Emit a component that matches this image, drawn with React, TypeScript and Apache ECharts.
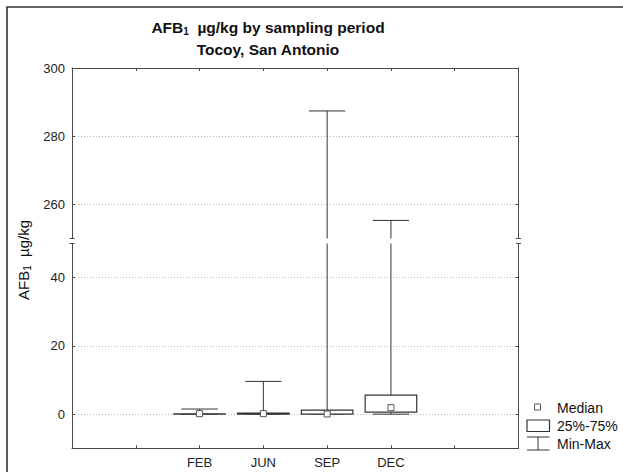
import React, { useEffect, useRef } from "react";
import * as echarts from "echarts";

// ---- data ----
const CATEGORIES = ["FEB", "JUN", "SEP", "DEC"];
const MIN_VALUES = [0, 0, 0, 0];
const Q1_VALUES = [0, 0, 0, 0.6];
const MEDIAN_VALUES = [0.15, 0.15, 0.05, 1.9];
const Q3_VALUES = [0.1, 0.3, 1.2, 5.6];
const MAX_VALUES = [1.5, 9.6, 287.4, 255.3];

const UPPER_TICKS = [260, 280, 300];
const LOWER_TICKS = [0, 20, 40];
const UPPER_RANGE = [250, 300];
const LOWER_RANGE = [-10, 50];

// category slots on the x axis (empty slots before and after)
const LEADING_SLOTS = 2;
const TOTAL_SLOTS = 7;

const FONT = "Arial, 'Liberation Sans', Helvetica, sans-serif";
const AXIS_COLOR = "#4a4a4a";
const BOX_COLOR = "#333";

const boxData = CATEGORIES.map((_, i) => [
  i + LEADING_SLOTS,
  MIN_VALUES[i],
  Q1_VALUES[i],
  MEDIAN_VALUES[i],
  Q3_VALUES[i],
  MAX_VALUES[i],
]);

function renderItem(params: any, api: any) {
  const x = api.value(0);
  const mn = api.value(1);
  const q1 = api.value(2);
  const md = api.value(3);
  const q3 = api.value(4);
  const mx = api.value(5);
  const cs = params.coordSys;
  const top = cs.y;
  const bot = cs.y + cs.height;
  const yOf = (v: number) => api.coord([x, v])[1];
  const cx = api.coord([x, 0])[0];
  const step = api.size([1, 0])[0];
  const boxHalf = step * 0.404;
  const capHalf = step * 0.285;
  const inside = (y: number) => y >= top - 0.01 && y <= bot + 0.01;
  const clamp = (y: number) => Math.max(top, Math.min(bot, y));
  const children: any[] = [];
  const line = (x1: number, y1: number, x2: number, y2: number) => ({
    type: "line",
    shape: { x1, y1, x2, y2 },
    style: { stroke: BOX_COLOR, lineWidth: 1 },
  });
  const seg = (a: number, b: number) => {
    const ya = clamp(yOf(a));
    const yb = clamp(yOf(b));
    if (Math.abs(ya - yb) > 0.5) children.push(line(cx, ya, cx, yb));
  };
  seg(q3, mx);
  seg(mn, q1);
  [mn, mx].forEach((v) => {
    const y = yOf(v);
    if (inside(y)) children.push(line(cx - capHalf, y, cx + capHalf, y));
  });
  const yq1 = yOf(q1);
  const yq3 = yOf(q3);
  const bTop = clamp(yq3);
  const bBot = clamp(yq1);
  if (bBot - bTop > 0.01 || inside(yq1)) {
    children.push({
      type: "rect",
      shape: { x: cx - boxHalf, y: bTop, width: 2 * boxHalf, height: Math.max(0.3, bBot - bTop) },
      style: { fill: "#fff", stroke: BOX_COLOR, lineWidth: 1.2 },
    });
  }
  const ym = yOf(md);
  if (inside(ym)) {
    children.push({
      type: "rect",
      shape: { x: cx - 3, y: ym - 3, width: 6, height: 6 },
      style: { fill: "#fff", stroke: "#555", lineWidth: 1 },
    });
  }
  return { type: "group", children };
}

const GRID_LEFT = 72;
const GRID_RIGHT = 104.5;

function yAxes(gridIndex: number, range: number[], ticks: number[]) {
  const common = {
    gridIndex,
    type: "value",
    min: range[0],
    max: range[1],
    axisLine: { show: true, onZero: false, lineStyle: { color: AXIS_COLOR, width: 1 } },
    axisTick: { show: true, inside: true, length: 3, customValues: ticks, lineStyle: { color: AXIS_COLOR } },
  };
  return [
    {
      ...common,
      position: "left",
      axisLabel: {
        show: true,
        customValues: ticks,
        color: "#222",
        fontSize: 13,
        fontFamily: FONT,
        margin: 7,
      },
      splitLine: { show: true, lineStyle: { type: [1, 2], color: "#b8b8b8", width: 1 } },
    },
    {
      ...common,
      position: "right",
      axisLabel: { show: false },
      splitLine: { show: false },
    },
  ];
}

export default function App() {
  const ref = useRef<HTMLDivElement>(null);
  useEffect(() => {
    if (!ref.current) return;
    const chart = echarts.init(ref.current, undefined, { renderer: "svg" });
    const axisLine = { show: true, onZero: false, lineStyle: { color: AXIS_COLOR, width: 1 } };
    const option: any = {
      animation: false,
      backgroundColor: "#fff",
      grid: [
        { left: GRID_LEFT, right: GRID_RIGHT, top: 68, height: 170.5 },
        { left: GRID_LEFT, right: GRID_RIGHT, top: 243.5, height: 204.8 },
      ],
      xAxis: [
        {
          gridIndex: 0,
          type: "value",
          min: 0,
          max: TOTAL_SLOTS,
          interval: 1,
          position: "top",
          axisLine,
          axisTick: { show: true, inside: true, length: 3, lineStyle: { color: AXIS_COLOR } },
          axisLabel: { show: false },
          splitLine: { show: false },
        },
        {
          gridIndex: 1,
          type: "value",
          min: 0,
          max: TOTAL_SLOTS,
          interval: 1,
          position: "bottom",
          axisLine,
          axisTick: { show: true, inside: true, length: 3, lineStyle: { color: AXIS_COLOR } },
          axisLabel: {
            show: true,
            color: "#222",
            fontSize: 13,
            fontFamily: FONT,
            margin: 8,
            formatter: (v: number) => CATEGORIES[v - LEADING_SLOTS] ?? "",
          },
          splitLine: { show: false },
        },
      ],
      yAxis: [...yAxes(0, UPPER_RANGE, UPPER_TICKS), ...yAxes(1, LOWER_RANGE, LOWER_TICKS)],
      series: [0, 1].map((g) => ({
        type: "custom",
        xAxisIndex: g,
        yAxisIndex: g * 2,
        data: boxData,
        encode: { x: 0, y: [1, 2, 3, 4, 5] },
        renderItem,
        clip: false,
        z: 3,
      })),
      graphic: [
        // outer frame
        {
          type: "rect",
          shape: { x: 7, y: 7, width: 700, height: 600 },
          style: { fill: "none", stroke: "#333", lineWidth: 1.6 },
          silent: true,
        },
        // title
        {
          type: "text",
          x: 268,
          y: 27,
          style: {
            text: "{b|AFB}{s|1}{b|  µg/kg by sampling period}",
            align: "center",
            verticalAlign: "middle",
            rich: {
              b: { fontSize: 15.5, fontWeight: "bold", fontFamily: FONT, fill: "#111", lineHeight: 18 },
              s: { fontSize: 10, fontWeight: "bold", fontFamily: FONT, fill: "#111", lineHeight: 10, verticalAlign: "bottom" },
            },
          },
        },
        {
          type: "text",
          x: 268,
          y: 49.5,
          style: {
            text: "Tocoy, San Antonio",
            align: "center",
            verticalAlign: "middle",
            fontSize: 15.5,
            fontWeight: "bold",
            fontFamily: FONT,
            fill: "#111",
          },
        },
        // y-axis name
        {
          type: "text",
          x: 23,
          y: 260,
          rotation: Math.PI / 2,
          style: {
            text: "{n|AFB}{s|1}{n|  µg/kg}",
            align: "center",
            verticalAlign: "middle",
            rich: {
              n: { fontSize: 15, fontFamily: FONT, fill: "#111", lineHeight: 18 },
              s: { fontSize: 10, fontFamily: FONT, fill: "#111", lineHeight: 10, verticalAlign: "bottom" },
            },
          },
        },
        // axis break marks
        ...[GRID_LEFT, 623 - GRID_RIGHT].flatMap((ax) =>
          [238.5, 243.5].map((y) => ({
            type: "line",
            shape: { x1: ax - 2.5, y1: y, x2: ax + 2.5, y2: y },
            style: { stroke: AXIS_COLOR, lineWidth: 1 },
          }))
        ),
        // legend
        {
          type: "rect",
          shape: { x: 534.5, y: 404, width: 6, height: 6 },
          style: { fill: "#fff", stroke: "#555", lineWidth: 1 },
        },
        {
          type: "text",
          x: 557,
          y: 407.5,
          style: { text: "Median", fontSize: 14, fontFamily: FONT, fill: "#111", align: "left", verticalAlign: "middle" },
        },
        {
          type: "rect",
          shape: { x: 527, y: 420, width: 22.5, height: 11.5 },
          style: { fill: "#fff", stroke: BOX_COLOR, lineWidth: 1.2 },
        },
        {
          type: "text",
          x: 557,
          y: 425.5,
          style: { text: "25%-75%", fontSize: 14, fontFamily: FONT, fill: "#111", align: "left", verticalAlign: "middle" },
        },
        {
          type: "polyline",
          shape: { points: [[527, 437], [549.5, 437]] },
          style: { stroke: BOX_COLOR, lineWidth: 1, fill: "none" },
        },
        {
          type: "line",
          shape: { x1: 538, y1: 437, x2: 538, y2: 450 },
          style: { stroke: BOX_COLOR, lineWidth: 1 },
        },
        {
          type: "line",
          shape: { x1: 527, y1: 450, x2: 549.5, y2: 450 },
          style: { stroke: BOX_COLOR, lineWidth: 1 },
        },
        {
          type: "text",
          x: 557,
          y: 443.5,
          style: { text: "Min-Max", fontSize: 14, fontFamily: FONT, fill: "#111", align: "left", verticalAlign: "middle" },
        },
      ],
    };
    chart.setOption(option);
    return () => chart.dispose();
  }, []);
  return (
    <div
      ref={ref}
      style={{ position: "absolute", left: 0, top: 0, width: 623, height: 472 }}
    />
  );
}
